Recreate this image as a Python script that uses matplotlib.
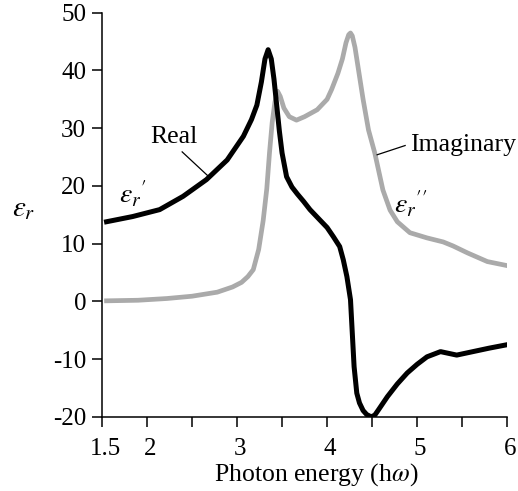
import matplotlib
matplotlib.use("Agg")
import matplotlib.pyplot as plt
from matplotlib.transforms import ScaledTranslation

plt.rcParams['font.family'] = ['Liberation Serif', 'DejaVu Serif']
plt.rcParams['mathtext.fontset'] = 'stix'
plt.rcParams['axes.unicode_minus'] = False

# photon energy (eV) and real part of permittivity
real_e = [1.55, 1.84, 2.14, 2.40, 2.66, 2.89, 3.07, 3.16, 3.22, 3.27, 3.31, 3.345,
          3.38, 3.41, 3.44, 3.47, 3.50, 3.55, 3.61, 3.67, 3.74, 3.81, 3.92, 4.00,
          4.07, 4.14, 4.18, 4.22, 4.26, 4.28, 4.30, 4.33, 4.36, 4.40, 4.44, 4.49,
          4.53, 4.57, 4.67, 4.78, 4.89, 5.00, 5.11, 5.26, 5.35, 5.44, 5.62, 5.80, 6.00]
real_v = [13.8, 14.7, 15.9, 18.2, 21.1, 24.5, 28.6, 31.5, 34.0, 38.0, 42.0, 43.6,
          42.0, 38.5, 34.0, 29.5, 25.7, 21.6, 19.8, 18.6, 17.3, 15.9, 14.1, 12.8,
          11.2, 9.5, 7.2, 4.3, 0.3, -5.5, -11.3, -15.9, -17.6, -18.9, -19.6, -20.0,
          -19.7, -18.8, -16.5, -14.3, -12.4, -10.9, -9.6, -8.7, -9.0, -9.3, -8.7, -8.1, -7.5]

# imaginary part
imag_e = [1.55, 1.90, 2.22, 2.50, 2.78, 2.95, 3.05, 3.12, 3.18, 3.24, 3.29, 3.33,
          3.36, 3.39, 3.42, 3.45, 3.48, 3.52, 3.58, 3.66, 3.75, 3.89, 4.00, 4.05,
          4.12, 4.17, 4.21, 4.24, 4.26, 4.28, 4.31, 4.34, 4.40, 4.46, 4.53, 4.62,
          4.70, 4.78, 4.92, 5.11, 5.29, 5.40, 5.56, 5.78, 6.00]
imag_v = [0.1, 0.2, 0.5, 0.9, 1.6, 2.5, 3.3, 4.3, 5.5, 9.0, 14.0, 19.5,
          25.7, 31.0, 34.5, 36.4, 35.5, 33.5, 32.0, 31.4, 32.0, 33.2, 35.0, 36.7,
          39.5, 42.0, 44.8, 46.2, 46.5, 46.0, 44.0, 41.0, 35.0, 29.7, 25.7, 19.3,
          15.8, 13.8, 11.9, 11.0, 10.3, 9.6, 8.4, 6.9, 6.2]

major_ticks = [1.5, 2, 3, 4, 5, 6]
minor_ticks = [2.5, 3.5, 4.5, 5.5]
y_ticks = [-20, -10, 0, 10, 20, 30, 40, 50]

fig = plt.figure(figsize=(5.18, 4.91), dpi=100)
ax = fig.add_axes([0.197, 0.151, 0.782, 0.823])

ax.plot(imag_e, imag_v, color='#aaaaaa', lw=3.4, solid_joinstyle='round', zorder=2)
ax.plot(real_e, real_v, color='black', lw=3.6, solid_joinstyle='round', zorder=3)

ax.set_xlim(1.5, 6)
ax.set_ylim(-20, 50)
ax.set_xticks(major_ticks)
ax.set_xticklabels(['1.5', '2', '3', '4', '5', '6'])
ax.set_xticks(minor_ticks, minor=True)
ax.set_yticks(y_ticks)

for s in ['top', 'right']:
    ax.spines[s].set_visible(False)
for s in ['left', 'bottom']:
    ax.spines[s].set_linewidth(1.1)
ax.tick_params(which='both', direction='out', length=7.5, width=1.1, labelsize=18)
ax.tick_params(axis='x', pad=8)
ax.tick_params(axis='y', pad=4)

# the x tick labels sit a little right of their ticks in the original
shift = ScaledTranslation(3 / 100, 0, fig.dpi_scale_trans)
for lbl in ax.get_xticklabels():
    lbl.set_transform(lbl.get_transform() + shift)

ax.set_xlabel(r'Photon energy (h$\omega$)', fontsize=18.5, labelpad=0.5)
ax.xaxis.label.set_x(0.528)
fig.text(0.045, 0.574, r'$\varepsilon_r$', fontsize=21, ha='center', va='center')

# curve labels
ax.text(1.84, 18.6, r"$\varepsilon_r{}'$", fontsize=20, ha='center', va='center')
ax.text(4.93, 16.8, r"$\varepsilon_r{}''$", fontsize=20, ha='center', va='center')
ax.text(2.30, 28.5, 'Real', fontsize=18.5, ha='center', va='center')
ax.plot([2.39, 2.70], [25.9, 21.4], color='black', lw=0.9)
ax.text(4.92, 27.1, 'Imaginary', fontsize=18.5, ha='left', va='center')
ax.plot([4.556, 4.867], [25.4, 27.0], color='black', lw=0.9)

fig.savefig('out.png', dpi=100)
